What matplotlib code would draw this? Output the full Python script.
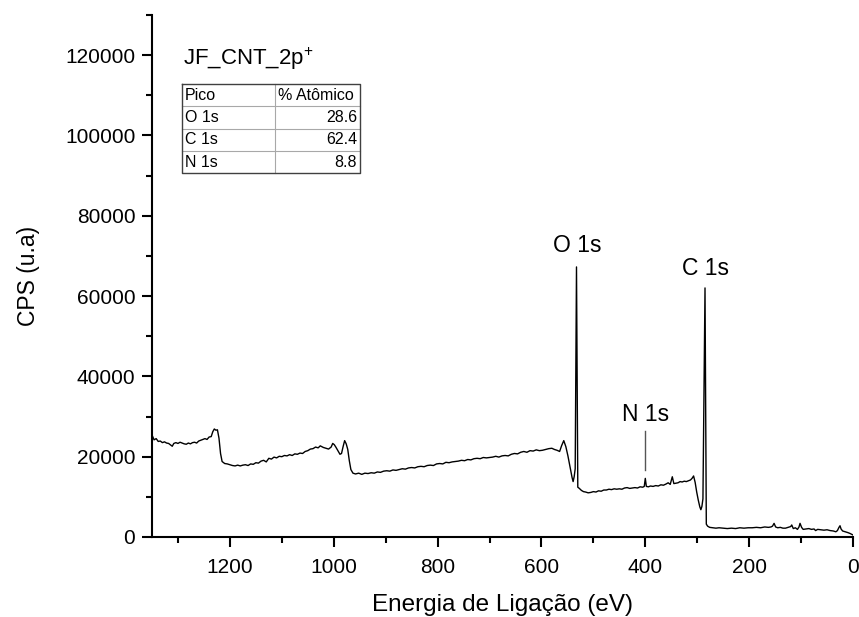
import matplotlib
matplotlib.use("Agg")
import matplotlib.pyplot as plt
from matplotlib.ticker import MultipleLocator
from matplotlib.lines import Line2D

plt.rcParams['font.family'] = ['Liberation Sans', 'DejaVu Sans']
plt.rcParams['mathtext.fontset'] = 'custom'
plt.rcParams['mathtext.rm'] = 'Liberation Sans'
plt.rcParams['mathtext.it'] = 'Liberation Sans'

# XPS survey spectrum: binding energy (eV) and counts per second
energy = [
    1350, 1346, 1342, 1338, 1334, 1330, 1326, 1322, 1318, 1314, 1311, 1308, 1304, 1300,
    1296, 1292, 1288, 1284, 1280, 1276, 1272, 1268, 1264, 1260, 1256, 1252, 1248, 1244,
    1240, 1236, 1233, 1230, 1227, 1224, 1221, 1218, 1215, 1210, 1205, 1200, 1195, 1190,
    1185, 1180, 1175, 1170, 1165, 1160, 1155, 1150, 1145, 1140, 1135, 1130, 1125, 1120,
    1115, 1110, 1105, 1100, 1095, 1090, 1085, 1080, 1075, 1070, 1065, 1060, 1055, 1050,
    1045, 1040, 1035, 1030, 1026, 1020, 1015, 1010, 1005, 1002, 999, 996, 992, 988, 985,
    982, 979, 976, 973, 970, 967, 963, 958, 952, 946, 940, 934, 928, 922, 916, 910, 904,
    898, 892, 886, 880, 874, 868, 862, 856, 850, 844, 838, 832, 826, 820, 814, 808, 802,
    796, 790, 784, 778, 772, 766, 760, 754, 748, 742, 736, 730, 724, 718, 712, 706, 700,
    694, 688, 682, 676, 670, 664, 658, 652, 646, 640, 634, 628, 622, 616, 610, 604, 598,
    592, 586, 580, 575, 570, 565, 561, 557, 553, 549, 545, 541, 539, 537, 535, 532.5, 530,
    527, 523, 519, 515, 510, 505, 500, 495, 490, 485, 480, 475, 470, 465, 460, 455, 450,
    445, 440, 435, 430, 425, 420, 415, 410, 405, 402, 400, 398, 394, 390, 385, 380, 375,
    370, 365, 360, 356, 352, 348, 345, 341, 337, 333, 329, 325, 321, 317, 313, 310, 307,
    304, 301, 298, 295, 293, 291, 289, 285, 282.5, 280, 276, 270, 264, 258, 250, 242, 234,
    226, 218, 210, 202, 194, 186, 178, 170, 163, 158, 155, 152, 149, 145, 140, 135, 130,
    125, 120, 118, 115, 111, 107, 104, 102, 99, 96, 90, 85, 80, 75, 72, 68, 62, 56, 50,
    44, 38, 33, 30, 27, 25, 23, 20, 15, 10, 6, 3, 0,
]
cps = [
    25400, 24200, 24500, 23800, 23900, 23500, 23700, 23400, 23300, 22900, 22600, 23300, 23500, 23300,
    23600, 23400, 23200, 23100, 23400, 23200, 23500, 23600, 23400, 23900, 24100, 24300, 24500, 24300,
    24900, 25000, 26200, 26900, 26600, 26700, 24600, 20800, 18800, 18300, 18200, 18000, 17800, 17700,
    17900, 17700, 17900, 18000, 17800, 18200, 18100, 18500, 18400, 18900, 19100, 18700, 19600, 19400,
    19900, 19700, 20100, 20000, 20300, 20200, 20500, 20300, 20700, 20600, 20900, 20800, 21300, 21500,
    21900, 22000, 22400, 22200, 22700, 22300, 22100, 21900, 22400, 23300, 23000, 22400, 21500, 20600, 20800,
    22500, 24000, 23200, 21800, 19000, 16800, 15900, 15700, 15900, 15600, 15900, 15800, 16000, 15900, 16200, 16100, 16400,
    16500, 16400, 16700, 16600, 16800, 17000, 16900, 17200, 17300, 17200, 17500, 17600, 17500, 17800, 17900, 17800, 18200,
    18300, 18200, 18600, 18500, 18700, 18800, 18900, 19100, 19000, 19300, 19200, 19500, 19600, 19500, 19800, 19700, 19800,
    19900, 20100, 19900, 20200, 20300, 20200, 20600, 20800, 20700, 21100, 21300, 21100, 21500, 21400, 21700, 21500, 21600,
    21800, 22000, 22100, 21800, 21600, 21300, 22800, 24000, 22500, 20200, 17500, 14800, 13800, 15000, 17000, 67260, 12400,
    12100, 11600, 11300, 11200, 11000, 11100, 11300, 11200, 11500, 11400, 11700, 11700, 11900, 11800, 12000, 11900, 12000,
    11900, 12200, 12300, 12100, 12200, 12300, 12200, 12500, 12400, 12600, 14600, 12600, 12500, 12700, 12600, 12800, 12700,
    13000, 12900, 13200, 13500, 13100, 15000, 13300, 13400, 13500, 13800, 13700, 13900, 13800, 14000, 14200, 14600, 15200,
    13600, 11200, 9200, 7500, 6800, 7600, 9500, 62030, 3200, 2700, 2400, 2300, 2200, 2300, 2200, 2100, 2200,
    2100, 2300, 2200, 2300, 2300, 2400, 2300, 2500, 2400, 2500, 2700, 3400, 2500, 2300, 2400, 2200, 2200,
    2400, 2600, 3000, 2100, 2300, 1900, 2500, 3400, 2400, 1900, 2000, 2100, 1900, 2000, 1600, 1900, 1800, 1700, 1800,
    1600, 1500, 1300, 1600, 2400, 2800, 2000, 1500, 1300, 1100, 900, 700, 500,
]

# Peak labels: (text, energy, label height)
peak_labels = ["O 1s", "C 1s", "N 1s"]
peak_energy = [532, 285, 400]
peak_label_cps = [72600, 66800, 30400]
# N 1s marker line extent
n1s_marker = [16700, 26300]

# Atomic composition table
table_header = ["Pico", "% Atômico"]
table_peaks = ["O 1s", "C 1s", "N 1s"]
table_percent = [28.6, 62.4, 8.8]

fig = plt.figure(figsize=(8.59, 6.17), dpi=100)
ax = fig.add_axes([152 / 859, 80 / 617, 701 / 859, 522 / 617])

ax.plot(energy, cps, color='black', lw=1.0)
ax.set_xlim(1350, 0)
ax.set_ylim(0, 130000)

ax.xaxis.set_major_locator(MultipleLocator(200))
ax.xaxis.set_minor_locator(MultipleLocator(100))
ax.yaxis.set_major_locator(MultipleLocator(20000))
ax.yaxis.set_minor_locator(MultipleLocator(10000))

for side in ('top', 'right'):
    ax.spines[side].set_visible(False)
for side in ('left', 'bottom'):
    ax.spines[side].set_linewidth(1.5)
ax.tick_params(which='major', direction='out', length=7, width=1.5, labelsize=15)
ax.tick_params(axis='x', which='major', pad=8)
ax.tick_params(axis='y', which='major', pad=5)
ax.tick_params(which='minor', direction='out', length=4, width=1.5)

ax.set_xlabel("Energia de Ligação (eV)", fontsize=17.5, labelpad=12)
ax.set_ylabel("CPS (u.a)", fontsize=16.5, labelpad=18)

# peak annotations
for txt, e, h in zip(peak_labels, peak_energy, peak_label_cps):
    ax.text(e, h, txt, fontsize=16.5, ha='center', va='center')
ax.plot([peak_energy[2], peak_energy[2]], n1s_marker, color='#555555', lw=1.0)

# sample name
ax.text(0.0445, 0.905, r"JF_CNT_2p$^{+}$", transform=ax.transAxes,
        fontsize=16, ha='left', va='baseline')

# composition table (axes fractions)
tx0, tx1 = 0.0432, 0.2967
tcol = 0.175
ty_top, ty_bot = 0.8678, 0.6967
nrows = 1 + len(table_peaks)
rh = (ty_top - ty_bot) / nrows
inner = dict(color='#a8a8a8', lw=0.8, transform=ax.transAxes)
for i in range(1, nrows):
    y = ty_top - i * rh
    ax.add_line(Line2D([tx0, tx1], [y, y], **inner))
ax.add_line(Line2D([tcol, tcol], [ty_bot, ty_top], **inner))
outer = dict(color='#404040', lw=1.0, transform=ax.transAxes)
ax.add_line(Line2D([tx0, tx1, tx1, tx0, tx0], [ty_top, ty_top, ty_bot, ty_bot, ty_top], **outer))

rows = [table_header] + [[p, f"{v:.1f}"] for p, v in zip(table_peaks, table_percent)]
for i, (c0, c1) in enumerate(rows):
    yc = ty_top - (i + 0.5) * rh
    ax.text(tx0 + 0.004, yc, c0, transform=ax.transAxes, fontsize=11.5, ha='left', va='center')
    if i == 0:
        ax.text(tcol + 0.005, yc, c1, transform=ax.transAxes, fontsize=11.5, ha='left', va='center')
    else:
        ax.text(tx1 - 0.004, yc, c1, transform=ax.transAxes, fontsize=11.5, ha='right', va='center')

fig.savefig("out.png", dpi=100)
